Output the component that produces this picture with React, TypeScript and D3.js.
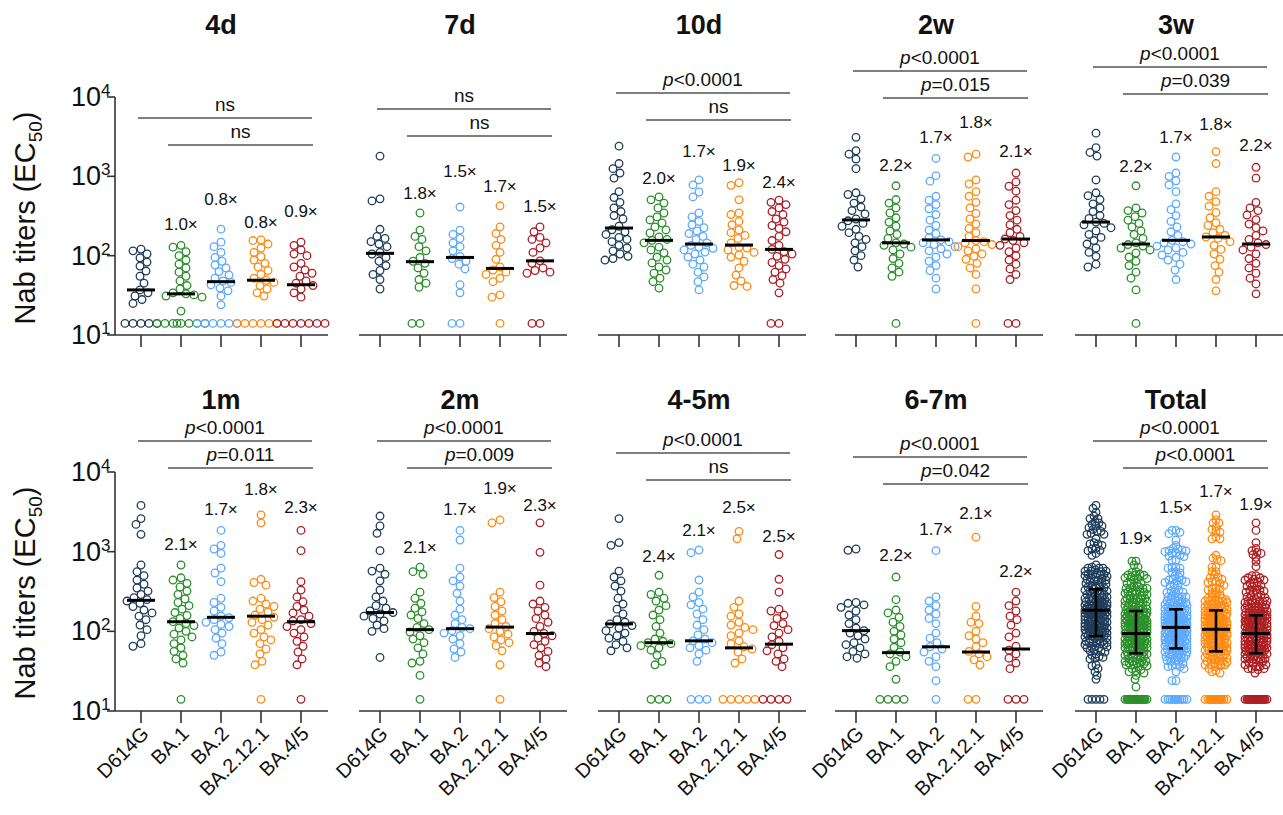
import * as d3 from 'd3'

// limit of detection row
const L = 14

const variants = ['D614G', 'BA.1', 'BA.2', 'BA.2.12.1', 'BA.4/5']
const colors = ['#1f3d5a', '#2b8f2b', '#5ca9ff', '#ff8a12', '#ad1f24']
const titles = ['4d', '7d', '10d', '2w', '3w', '1m', '2m', '4-5m', '6-7m', 'Total']
const yTicks = [10, 100, 1000, 10000]

// individual titers per time point, groups in variant order
const titers4d = [
  [121, 115, 105, 94, 83, 74, 64, 55, 45, 37, 34, 31, 28, 25, L, L, L, L, L],
  [135, 128, 112, 100, 88, 78, 70, 62, 55, 48, 42, 38, 34, 33, 32, 31, 30, 20, L, L, L, L, L, L, L, L],
  [216, 148, 130, 110, 95, 85, 76, 70, 63, 57, 52, 48, 46, 43, 39, 36, 31, 24, L, L, L, L, L, L],
  [158, 155, 140, 125, 110, 97, 88, 80, 72, 65, 58, 52, 49, 46, 42, 38, 34, 31, L, L, L, L, L, L],
  [148, 135, 118, 105, 100, 80, 72, 66, 60, 55, 48, 45, 42, 38, 34, 30, L, L, L, L, L, L, L],
]
const titers7d = [
  [1800, 520, 490, 215, 175, 165, 150, 140, 130, 110, 105, 95, 85, 75, 65, 58, 50, 38],
  [345, 210, 175, 160, 130, 115, 95, 85, 80, 70, 60, 50, 45, 40, L, L],
  [410, 210, 185, 165, 145, 130, 115, 98, 92, 85, 78, 68, 43, 34, L, L],
  [425, 230, 190, 160, 135, 110, 90, 72, 66, 62, 58, 52, 47, 32, 30, L],
  [230, 200, 170, 160, 145, 125, 110, 86, 80, 70, 65, 62, 60, L, L],
]
const titers10d = [
  [2400, 1450, 1250, 1100, 950, 640, 540, 470, 400, 360, 320, 290, 235, 212, 200, 185, 170, 160, 150, 135, 125, 115, 105, 98, 92, 88],
  [550, 505, 460, 400, 345, 308, 282, 258, 230, 211, 193, 172, 160, 156, 145, 128, 118, 108, 96, 88, 81, 72, 66, 60, 52, 47, 39],
  [900, 780, 635, 550, 345, 308, 270, 245, 225, 205, 190, 175, 160, 145, 135, 128, 124, 118, 111, 105, 96, 88, 78, 72, 62, 54, 47, 37],
  [830, 770, 505, 345, 330, 270, 245, 211, 195, 180, 165, 145, 128, 125, 118, 110, 102, 96, 85, 70, 57, 48, 42, 41],
  [500, 470, 440, 400, 360, 330, 290, 265, 240, 220, 200, 175, 155, 135, 120, 112, 105, 98, 90, 82, 75, 68, 62, 56, 50, 45, 34, L, L],
]
const titers2w = [
  [3100, 2100, 1900, 1650, 1250, 620, 590, 520, 460, 410, 370, 335, 290, 275, 255, 235, 215, 195, 175, 160, 145, 130, 115, 100, 88, 72],
  [760, 510, 460, 400, 345, 300, 265, 235, 205, 185, 165, 145, 140, 135, 128, 118, 105, 92, 80, 70, 62, 55, L],
  [1680, 1020, 870, 560, 500, 440, 390, 330, 280, 240, 210, 190, 168, 158, 150, 145, 138, 130, 122, 115, 105, 96, 85, 75, 65, 52, 38],
  [1900, 1750, 900, 800, 640, 560, 470, 400, 340, 290, 250, 220, 195, 175, 155, 150, 145, 138, 130, 122, 115, 105, 98, 90, 80, 70, 58, 38, L],
  [1100, 850, 750, 650, 500, 440, 370, 320, 280, 245, 215, 195, 175, 162, 155, 145, 135, 125, 112, 100, 88, 78, 68, 58, 50, L, L],
]
const titers3w = [
  [3500, 2300, 2000, 1800, 900, 620, 570, 510, 450, 400, 360, 320, 295, 265, 255, 245, 225, 205, 185, 170, 155, 140, 125, 110, 98, 78, 72],
  [760, 400, 370, 345, 310, 280, 255, 230, 205, 185, 165, 145, 138, 132, 125, 118, 108, 96, 85, 75, 62, 52, 37, L],
  [1750, 1100, 1000, 880, 780, 640, 450, 380, 320, 270, 230, 200, 180, 156, 150, 145, 140, 132, 125, 118, 110, 102, 95, 88, 78, 66, 50],
  [2050, 1450, 640, 560, 480, 420, 350, 300, 260, 240, 215, 195, 180, 172, 165, 150, 135, 120, 105, 90, 75, 62, 50, 36],
  [1300, 950, 470, 400, 370, 325, 285, 250, 225, 205, 180, 160, 145, 138, 128, 118, 105, 92, 80, 70, 60, 52, 44, 33],
]
const titers1m = [
  [3800, 2600, 2200, 1650, 680, 560, 500, 440, 390, 350, 320, 290, 265, 250, 240, 225, 205, 185, 170, 155, 140, 120, 105, 88, 70, 65],
  [680, 470, 440, 400, 360, 320, 290, 255, 230, 210, 190, 172, 158, 145, 132, 125, 118, 110, 100, 92, 85, 78, 70, 62, 56, 50, 45, 40, L],
  [1850, 1200, 1080, 950, 620, 540, 420, 260, 230, 200, 180, 155, 148, 140, 130, 122, 115, 105, 95, 82, 70, 55, 50],
  [2900, 2300, 450, 410, 380, 260, 240, 220, 205, 190, 175, 160, 150, 140, 130, 120, 105, 95, 85, 78, 70, 60, 52, 42, 38, L],
  [1850, 1030, 420, 330, 270, 235, 205, 185, 170, 155, 140, 135, 125, 115, 105, 95, 85, 75, 65, 55, 45, 38, L],
]
const titers2m = [
  [2800, 2100, 1700, 1030, 620, 570, 520, 430, 330, 270, 240, 210, 195, 180, 172, 165, 155, 145, 135, 120, 108, 100, 47],
  [640, 560, 520, 310, 260, 225, 195, 175, 160, 145, 125, 112, 105, 98, 88, 80, 72, 62, 52, 42, 40, 28, L],
  [1850, 1400, 620, 480, 430, 370, 300, 240, 190, 160, 140, 125, 112, 108, 102, 95, 88, 80, 70, 60, 55, 47],
  [2500, 2300, 310, 265, 235, 205, 180, 160, 140, 125, 115, 108, 100, 92, 85, 78, 72, 66, 57, 38, L],
  [2300, 980, 380, 240, 220, 200, 180, 160, 145, 130, 115, 100, 94, 88, 82, 75, 68, 62, 56, 50, 45, 40, 36],
]
const titers45m = [
  [2600, 1300, 1200, 570, 480, 430, 370, 320, 260, 220, 190, 165, 140, 130, 124, 118, 110, 102, 95, 88, 82, 75, 68, 62, 57],
  [505, 310, 290, 260, 240, 210, 185, 160, 140, 115, 95, 80, 75, 72, 70, 66, 62, 58, 50, 42, 38, L, L, L],
  [1050, 970, 440, 310, 270, 230, 215, 190, 165, 140, 120, 105, 90, 80, 76, 72, 66, 62, 58, 52, 42, L, L, L],
  [1800, 1450, 240, 200, 165, 155, 130, 120, 112, 105, 95, 88, 76, 70, 64, 60, 55, 45, 40, L, L, L, L, L],
  [920, 450, 310, 190, 180, 160, 145, 125, 118, 105, 95, 85, 75, 68, 62, 57, 52, 45, 42, 36, L, L, L, L],
]
const titers67m = [
  [1080, 1040, 230, 225, 215, 200, 180, 160, 140, 125, 110, 102, 95, 88, 80, 72, 68, 62, 56, 52, 48, 46],
  [480, 250, 185, 170, 150, 130, 115, 100, 90, 80, 72, 63, 55, 52, 48, 42, 36, 25, L, L, L, L],
  [1030, 270, 240, 210, 185, 165, 145, 125, 95, 82, 72, 64, 60, 55, 48, 42, 36, 24, L],
  [1520, 205, 155, 130, 125, 100, 88, 80, 72, 64, 56, 52, 48, 44, 38, L, L],
  [310, 240, 210, 180, 155, 140, 120, 95, 85, 65, 58, 52, 46, 40, 34, L, L, L],
]
const timePoints = [titers4d, titers7d, titers10d, titers2w, titers3w, titers1m, titers2m, titers45m, titers67m]
// Total pools every time point
const titersTotal = variants.map((_, i) => timePoints.flatMap(tp => tp[i]))

const medians = [
  [37, 33, 47, 49, 43],
  [107, 84, 95, 69, 86],
  [223, 156, 140, 136, 120],
  [282, 145, 158, 155, 162],
  [265, 140, 156, 172, 140],
  [245, 132, 150, 155, 132],
  [172, 105, 108, 113, 94],
  [124, 72, 76, 62, 69],
  [102, 54, 64, 55, 60],
  [184, 94, 112, 106, 94],
]
const totalQ1 = [87, 53, 61, 56, 53]
const totalQ3 = [338, 180, 189, 183, 159]

const folds = [
  ['1.0×', '0.8×', '0.8×', '0.9×'],
  ['1.8×', '1.5×', '1.7×', '1.5×'],
  ['2.0×', '1.7×', '1.9×', '2.4×'],
  ['2.2×', '1.7×', '1.8×', '2.1×'],
  ['2.2×', '1.7×', '1.8×', '2.2×'],
  ['2.1×', '1.7×', '1.8×', '2.3×'],
  ['2.1×', '1.7×', '1.9×', '2.3×'],
  ['2.4×', '2.1×', '2.5×', '2.5×'],
  ['2.2×', '1.7×', '2.1×', '2.2×'],
  ['1.9×', '1.5×', '1.7×', '1.9×'],
]
const pvals = [
  ['ns', 'ns'],
  ['ns', 'ns'],
  ['p<0.0001', 'ns'],
  ['p<0.0001', 'p=0.015'],
  ['p<0.0001', 'p=0.039'],
  ['p<0.0001', 'p=0.011'],
  ['p<0.0001', 'p=0.009'],
  ['p<0.0001', 'ns'],
  ['p<0.0001', 'p=0.042'],
  ['p<0.0001', 'p<0.0001'],
]

// layout (pixels)
const colX = [141, 380, 619, 856, 1096]
const rowTop = [97, 472]
const rowBottom = [335, 711]
const bracketOff = [21, 12, -4, -26, -30, -31, -31, -19, -15, -31]
const foldOff = [
  [133, 108, 131, 120],
  [102, 80, 95, 115],
  [87, 60, 74, 91],
  [74, 46, 31, 60],
  [75, 46, 33, 54],
  [78, 43, 23, 41],
  [81, 43, 22, 39],
  [90, 64, 41, 70],
  [89, 63, 47, 105],
  [72, 41, 25, 38],
]

const FONT = '"Liberation Sans", Arial, Helvetica, sans-serif'
const AXIS = '#333'

function swarm(vals: number[], y: (v: number) => number, diam: number, maxW: number) {
  const pts = vals.map(v => ({ v, y: y(v), x: 0 })).sort((a, b) => a.y - b.y || b.v - a.v)
  const placed: { x: number; y: number }[] = []
  for (const p of pts) {
    let chosen = 0
    let bestD = -1
    for (let k = 0; k <= 2 * maxW; k++) {
      const off = k % 2 === 0 ? k / 2 : -(k + 1) / 2
      let minD = Infinity
      for (const q of placed) {
        const dy = q.y - p.y
        if (Math.abs(dy) >= diam) continue
        const d = Math.hypot(q.x - off, dy)
        if (d < minD) minD = d
      }
      if (minD >= diam) { chosen = off; bestD = minD; break }
      if (minD > bestD) { bestD = minD; chosen = off }
    }
    p.x = chosen
    placed.push(p)
  }
  return pts
}

function PLabel({ x, y, label }: { x: number; y: number; label: string }) {
  const italic = label.startsWith('p')
  return (
    <text x={x} y={y} textAnchor="middle" fontSize={19} fontFamily={FONT} fill="#111">
      {italic ? <tspan fontStyle="italic">p</tspan> : null}
      {italic ? label.slice(1) : label}
    </text>
  )
}

function Panel({ idx }: { idx: number }) {
  const row = idx < 5 ? 0 : 1
  const col = idx % 5
  const x0 = colX[col]
  const top = rowTop[row]
  const bottom = rowBottom[row]
  const isTotal = idx === 9
  const groups = isTotal ? titersTotal : timePoints[idx]

  const x = d3.scalePoint<string>().domain(variants).range([x0, x0 + 160])
  const y = d3.scaleLog().domain([10, 10000]).range([bottom, top])

  const axisStart = col === 0 ? x0 - 26 : x0 - 21
  const axisEnd = x0 + 160 + 27
  const br1 = top + bracketOff[idx]
  const br2 = br1 + 27

  return (
    <g>
      <text x={x0 + 80} y={top - 63} textAnchor="middle" fontSize={27} fontWeight="bold" fontFamily={FONT} fill="#111">
        {titles[idx]}
      </text>

      {/* significance brackets */}
      <line x1={x0 - 3} x2={x0 + 171} y1={br1} y2={br1} stroke="#555" strokeWidth={1.3} />
      <PLabel x={(x0 - 3 + x0 + 171) / 2} y={br1 - 7} label={pvals[idx][0]} />
      <line x1={x0 + 27} x2={x0 + 172} y1={br2} y2={br2} stroke="#555" strokeWidth={1.3} />
      <PLabel x={(x0 + 27 + x0 + 172) / 2} y={br2 - 7} label={pvals[idx][1]} />

      {/* axes */}
      <line x1={axisStart} x2={axisEnd} y1={bottom} y2={bottom} stroke={AXIS} strokeWidth={1.6} />
      {variants.map(v => (
        <line key={v} x1={x(v)} x2={x(v)} y1={bottom} y2={bottom + 12} stroke={AXIS} strokeWidth={1.6} />
      ))}
      {col === 0 && (
        <g>
          <line x1={axisStart} x2={axisStart} y1={y(10000)} y2={y(10)} stroke={AXIS} strokeWidth={1.6} />
          {yTicks.map(t => (
            <g key={t}>
              <line x1={axisStart - 8} x2={axisStart} y1={y(t)} y2={y(t)} stroke={AXIS} strokeWidth={1.6} />
              <text x={101} y={y(t) + 9} textAnchor="end" fontSize={27} fontFamily={FONT} fill="#111">10</text>
              <text x={101} y={y(t) - 1} fontSize={17} fontFamily={FONT} fill="#111">{Math.round(Math.log10(t))}</text>
            </g>
          ))}
          <text transform={`translate(35,${top + 121}) rotate(-90)`} textAnchor="middle" fontSize={29} fontFamily={FONT} fill="#111">
            Nab titers (EC<tspan fontSize={19} dy={7}>50</tspan><tspan dy={-7}>)</tspan>
          </text>
        </g>
      )}

      {/* points */}
      {groups.map((vals, gi) => {
        const cx = x(variants[gi])!
        const pts = isTotal ? swarm(vals, y, 4, 11) : swarm(vals, y, 7.6, 24)
        return (
          <g key={gi}>
            {pts.map((p, i) => (
              <circle key={i} cx={cx + p.x} cy={p.y} r={3.8} fill="none" stroke={colors[gi]} strokeWidth={1.3} />
            ))}
          </g>
        )
      })}

      {/* medians (and IQR for Total) */}
      {variants.map((v, gi) => {
        const cx = x(v)!
        const m = y(medians[idx][gi])
        return (
          <g key={v} stroke="#000">
            <line x1={cx - 14} x2={cx + 14} y1={m} y2={m} strokeWidth={3} />
            {isTotal && (
              <g strokeWidth={2.6}>
                <line x1={cx} x2={cx} y1={y(totalQ1[gi])} y2={y(totalQ3[gi])} />
                <line x1={cx - 7} x2={cx + 7} y1={y(totalQ1[gi])} y2={y(totalQ1[gi])} />
                <line x1={cx - 7} x2={cx + 7} y1={y(totalQ3[gi])} y2={y(totalQ3[gi])} />
              </g>
            )}
          </g>
        )
      })}

      {/* fold change labels */}
      {folds[idx].map((f, i) => (
        <text key={i} x={x(variants[i + 1])} y={top + foldOff[idx][i]} textAnchor="middle" fontSize={17} fontFamily={FONT} fill="#111">
          {f}
        </text>
      ))}

      {/* category labels on the bottom row */}
      {row === 1 && variants.map(v => (
        <text key={v} transform={`translate(${x(v)! + 9},${bottom + 24}) rotate(-45)`} textAnchor="end" fontSize={20} fontFamily={FONT} fill="#111">
          {v}
        </text>
      ))}
    </g>
  )
}

export default function App() {
  return (
    <svg width={1283} height={815} style={{ position: 'absolute', left: 0, top: 0, background: '#fff' }}>
      <rect width={1283} height={815} fill="#fff" />
      {titles.map((_, i) => <Panel key={i} idx={i} />)}
    </svg>
  )
}
